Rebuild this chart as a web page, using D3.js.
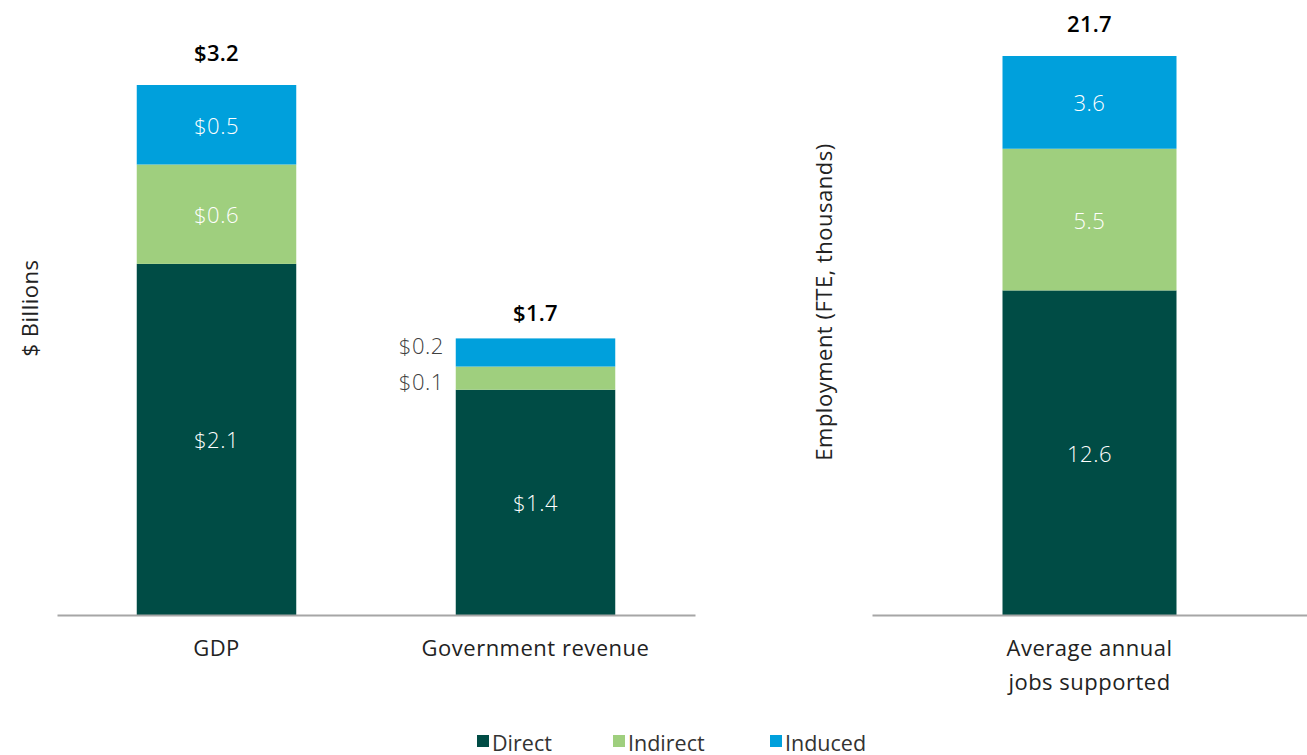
<!DOCTYPE html>
<html>
<head>
<meta charset="utf-8">
<script src="https://cdn.jsdelivr.net/npm/d3@7"></script>
<style>
  html, body { margin: 0; padding: 0; background: #fff; }
  svg { display: block; }
  text { font-family: "Open Sans", sans-serif; }
</style>
</head>
<body>
<svg id="chart" width="1307" height="755"></svg>
<script>
// ---- data ----
const seriesNames = ["Direct", "Indirect", "Induced"];
const seriesColors = ["#004c45", "#9fcf7e", "#00a0dc"];

const leftCategories = ["GDP", "Government revenue"];
const leftDirect   = [2.12, 1.36];
const leftIndirect = [0.60, 0.14];
const leftInduced  = [0.48, 0.17];
const leftTotals   = [3.2, 1.7];

const rightCategories = ["Average annual|jobs supported"];
const rightDirect   = [12.6];
const rightIndirect = [5.5];
const rightInduced  = [3.6];
const rightTotals   = [21.7];

const leftAxisTitle = "$ Billions";
const rightAxisTitle = "Employment (FTE, thousands)";

// ---- drawing ----
const svg = d3.select("#chart");
const baseY = 615;
const fmt1 = d3.format(".1f");

function buildRows(cats, a, b, c) {
  return cats.map((cat, i) => ({ cat, Direct: a[i], Indirect: b[i], Induced: c[i] }));
}

function drawPanel(opts) {
  const rows = buildRows(opts.cats, opts.direct, opts.indirect, opts.induced);
  const x = d3.scaleBand().domain(opts.cats).range(opts.xRange)
    .paddingInner(opts.padInner).paddingOuter(opts.padOuter);
  const y = d3.scaleLinear().domain([0, opts.yMax]).range([baseY, opts.yTop]);
  const stack = d3.stack().keys(seriesNames)(rows);

  const g = svg.append("g");
  stack.forEach((layer, li) => {
    g.selectAll(null).data(layer).enter().append("rect")
      .attr("x", d => x(d.data.cat))
      .attr("width", x.bandwidth())
      .attr("y", d => y(d[1]))
      .attr("height", d => y(d[0]) - y(d[1]))
      .attr("fill", seriesColors[li]);
  });

  // segment labels
  stack.forEach((layer, li) => {
    layer.forEach((d, i) => {
      const val = d[1] - d[0];
      const h = y(d[0]) - y(d[1]);
      const cy = (y(d[0]) + y(d[1])) / 2;
      const inside = h > 40;
      let yy = cy;
      if (!inside) yy = cy + (li === 2 ? -7 : 3);
      g.append("text")
        .attr("x", inside ? x(d.data.cat) + x.bandwidth() / 2 : x(d.data.cat) - 12)
        .attr("y", yy)
        .attr("text-anchor", inside ? "middle" : "end")
        .attr("dominant-baseline", "central")
        .attr("font-size", 22)
        .attr("letter-spacing", 0.5)
        .attr("font-weight", 300)
        .attr("fill", inside ? "#ffffff" : "#404040")
        .text(opts.prefix + fmt1(val));
    });
  });

  // totals
  rows.forEach((r, i) => {
    const top = y(r.Direct + r.Indirect + r.Induced);
    g.append("text")
      .attr("x", x(r.cat) + x.bandwidth() / 2)
      .attr("y", top - (i === 1 ? 26 : 33))
      .attr("text-anchor", "middle")
      .attr("dominant-baseline", "central")
      .attr("font-size", 22)
      .attr("letter-spacing", 0.3)
      .attr("font-weight", 600)
      .attr("fill", "#000")
      .text(opts.prefix + fmt1(opts.totals[i]));
  });

  // axis line
  const axis = d3.axisBottom(x).tickSize(0).tickPadding(0).tickFormat("");
  const ax = g.append("g").attr("transform", `translate(0,${baseY})`).call(axis);
  ax.select(".domain").attr("stroke", "#a6a6a6").attr("stroke-width", 2);

  // category labels
  opts.cats.forEach(cat => {
    const lines = cat.split("|");
    const t = g.append("text")
      .attr("text-anchor", "middle")
      .attr("font-size", 22)
      .attr("letter-spacing", 0.5)
      .attr("fill", "#222");
    lines.forEach((ln, k) => {
      t.append("tspan")
        .attr("x", x(cat) + x.bandwidth() / 2)
        .attr("y", 656 + k * 34)
        .text(ln);
    });
  });

  // axis title
  g.append("text")
    .attr("transform", `translate(${opts.titleX},${opts.titleY}) rotate(-90)`)
    .attr("text-anchor", "middle")
    .attr("dominant-baseline", "central")
    .attr("font-size", 22)
    .attr("letter-spacing", 0.5)
    .attr("fill", "#222")
    .text(opts.title);
}

drawPanel({
  cats: leftCategories, direct: leftDirect, indirect: leftIndirect, induced: leftInduced,
  totals: leftTotals, prefix: "$",
  xRange: [57, 695], padInner: 0.5, padOuter: 0.25,
  yMax: 3.2, yTop: 85,
  title: leftAxisTitle, titleX: 29, titleY: 308
});

drawPanel({
  cats: rightCategories, direct: rightDirect, indirect: rightIndirect, induced: rightInduced,
  totals: rightTotals, prefix: "",
  xRange: [872, 1307], padInner: 0.6, padOuter: 0.3,
  yMax: 21.7, yTop: 56,
  title: rightAxisTitle, titleX: 823, titleY: 302
});

// legend
const legendX = [477, 613, 770];
const lg = svg.append("g");
seriesNames.forEach((name, i) => {
  lg.append("rect")
    .attr("x", legendX[i]).attr("y", 735)
    .attr("width", 12).attr("height", 12)
    .attr("fill", seriesColors[i]);
  lg.append("text")
    .attr("x", legendX[i] + 15).attr("y", 742)
    .attr("dominant-baseline", "central")
    .attr("font-family", "DejaVu Sans, sans-serif")
    .attr("font-size", 21.5)
    .attr("fill", "#333")
    .text(name);
});
</script>
</body>
</html>
